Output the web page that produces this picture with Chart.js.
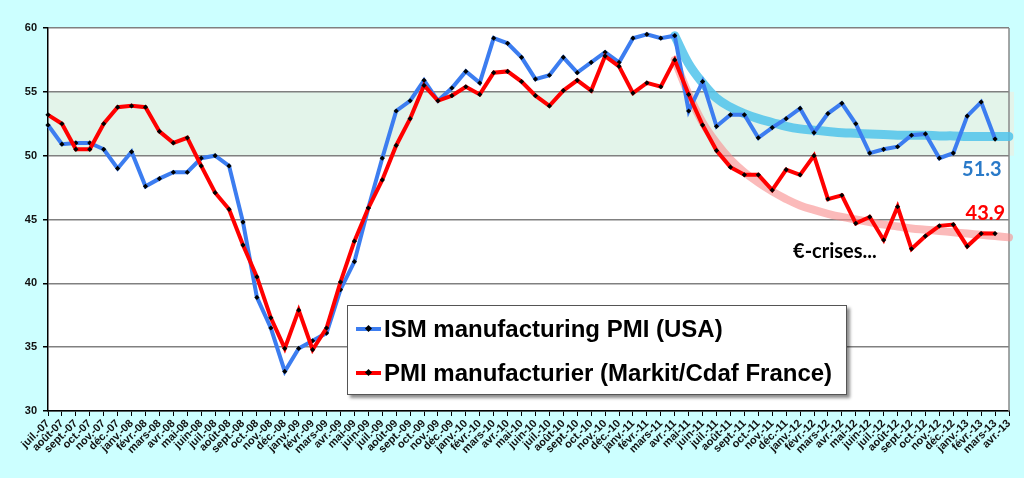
<!DOCTYPE html>
<html>
<head>
<meta charset="utf-8">
<script src="https://cdn.jsdelivr.net/npm/chart.js@4"></script>
<style>
    html, body { margin: 0; padding: 0; background: #ccffff; }
    #wrap { position: relative; width: 1024px; height: 478px; }
    #legend {
        position: absolute; left: 347px; top: 305px; width: 498px; height: 88px;
        background: #fff; border: 1px solid #555;
        box-shadow: 3px 3px 3px rgba( 0, 0, 0, 0.45 );
        font-family: 'Liberation Sans', Arial, sans-serif; font-weight: bold; font-size: 24px; color: #000;
    }
    .row { position: absolute; left: 0; height: 30px; line-height: 30px; white-space: nowrap; }
    .swatch { position: absolute; left: 8px; top: 13px; width: 25px; height: 4px; }
    .swatch i { position: absolute; left: 10px; top: -1px; width: 5px; height: 5px; background: #000; transform: rotate( 45deg ); }
    .txt { position: absolute; left: 36px; top: 0; }
</style>
</head>
<body>
<div id="wrap">
    <canvas id="__chart_pmi" width="1024" height="478"></canvas>
    <div id="legend">
        <div class="row" style="top: 8px;"><span class="swatch" style="background: #3c7df0;"><i></i></span><span class="txt">ISM manufacturing PMI (USA)</span></div>
        <div class="row" style="top: 52px;"><span class="swatch" style="background: #ff0000;"><i></i></span><span class="txt">PMI manufacturier (Markit/Cdaf France)</span></div>
    </div>
</div>
<script>

const months = [
    'juil.-07', 'août-07', 'sept.-07', 'oct.-07', 'nov.-07', 'déc.-07',
    'janv.-08', 'févr.-08', 'mars-08', 'avr.-08', 'mai-08', 'juin-08', 'juil.-08', 'août-08', 'sept.-08', 'oct.-08', 'nov.-08', 'déc.-08',
    'janv.-09', 'févr.-09', 'mars-09', 'avr.-09', 'mai-09', 'juin-09', 'juil.-09', 'août-09', 'sept.-09', 'oct.-09', 'nov.-09', 'déc.-09',
    'janv.-10', 'févr.-10', 'mars-10', 'avr.-10', 'mai-10', 'juin-10', 'juil.-10', 'août-10', 'sept.-10', 'oct.-10', 'nov.-10', 'déc.-10',
    'janv.-11', 'févr.-11', 'mars-11', 'avr.-11', 'mai-11', 'juin-11', 'juil.-11', 'août-11', 'sept.-11', 'oct.-11', 'nov.-11', 'déc.-11',
    'janv.-12', 'févr.-12', 'mars-12', 'avr.-12', 'mai-12', 'juin-12', 'juil.-12', 'août-12', 'sept.-12', 'oct.-12', 'nov.-12', 'déc.-12',
    'janv.-13', 'févr.-13', 'mars-13', 'avr.-13'
];

const ismUsa = [
    52.4, 50.9, 51.0, 51.0, 50.5, 49.0,
    50.3, 47.6, 48.2, 48.7, 48.7, 49.8, 50.0, 49.2, 44.8, 38.9, 36.5, 33.1,
    34.9, 35.5, 36.1, 39.5, 41.7, 45.9, 49.8, 53.5, 54.3, 55.9, 54.3, 55.3,
    56.6, 55.7, 59.2, 58.8, 57.7, 56.0, 56.3, 57.7, 56.5, 57.3, 58.1, 57.3,
    59.2, 59.5, 59.2, 59.4, 53.5, 55.8, 52.3, 53.2, 53.2, 51.4, 52.2, 52.9,
    53.7, 51.8, 53.3, 54.1, 52.5, 50.2, 50.5, 50.7, 51.6, 51.7, 49.8, 50.2,
    53.1, 54.2, 51.3, null
];

const pmiFrance = [
    53.2, 52.5, 50.5, 50.5, 52.5, 53.8,
    53.9, 53.8, 51.9, 51.0, 51.4, 49.2, 47.1, 45.8, 43.0, 40.5, 37.3, 34.9,
    37.9, 34.8, 36.5, 40.1, 43.3, 45.9, 48.1, 50.8, 52.9, 55.5, 54.3, 54.7,
    55.4, 54.8, 56.5, 56.6, 55.8, 54.7, 53.9, 55.1, 55.9, 55.1, 57.8, 57.0,
    54.9, 55.7, 55.4, 57.5, 54.8, 52.4, 50.4, 49.1, 48.5, 48.5, 47.3, 48.9,
    48.5, 50.0, 46.6, 46.9, 44.7, 45.2, 43.4, 46.0, 42.7, 43.7, 44.5, 44.6,
    42.9, 43.9, 43.9, null
];

const ismTrend = [
    null, null, null, null, null, null,
    null, null, null, null, null, null, null, null, null, null, null, null,
    null, null, null, null, null, null, null, null, null, null, null, null,
    null, null, null, null, null, null, null, null, null, null, null, null,
    null, null, null, 59.4, 57.2, 55.7, 54.5, 53.8, 53.3, 52.9, 52.6, 52.3,
    52.1, 52.0, 51.9, 51.8, 51.75, 51.7, 51.65, 51.6, 51.6, 51.6, 51.55, 51.55,
    51.5, 51.5, 51.5, 51.5
];

const pmiTrend = [
    null, null, null, null, null, null,
    null, null, null, null, null, null, null, null, null, null, null, null,
    null, null, null, null, null, null, null, null, null, null, null, null,
    null, null, null, null, null, null, null, null, null, null, null, null,
    null, null, null, 57.5, 54.8, 52.6, 51.0, 49.7, 48.7, 47.9, 47.2, 46.6,
    46.1, 45.75, 45.45, 45.2, 45.0, 44.8, 44.6, 44.45, 44.3, 44.2, 44.1, 44.0,
    43.9, 43.8, 43.7, 43.6
];

const yTicks = [ 30, 35, 40, 45, 50, 55, 60 ];

document.addEventListener( 'DOMContentLoaded', function () {

    let chart = document.getElementById( '__chart_pmi' );

    if( chart ) {

        let ctx = chart.getContext( '2d' );

        /**
         * backdrop, green 50-55 band, notes
         */

        const decor = {
            id: 'decor',
            beforeDraw: ( c ) => {
                const g = c.ctx, a = c.chartArea, y = c.scales.y;
                g.save();
                g.fillStyle = '#ccffff';
                g.fillRect( 0, 0, c.width, c.height );
                g.fillStyle = '#ffffff';
                g.fillRect( a.left, a.top, a.right - a.left, a.bottom - a.top );
                g.fillStyle = '#e3f4ea';
                let top = y.getPixelForValue( 55 ), bot = y.getPixelForValue( 50 );
                g.fillRect( a.left, top, a.right - a.left + 5, bot - top );
                g.restore();
            },
            beforeDatasetsDraw: ( c ) => {
                const g = c.ctx, a = c.chartArea;
                g.save();
                g.strokeStyle = '#888';
                g.lineWidth = 1.5;
                g.beginPath();
                g.moveTo( a.right, a.top );
                g.lineTo( a.right, a.bottom );
                g.stroke();
                g.restore();
            },
            afterDraw: ( c ) => {
                const g = c.ctx, x = c.scales.x, y = c.scales.y;
                const notes = [
                    { text: '51.3', at: 67.05, v: 48.9, color: '#2a7ac8' },
                    { text: '43.9', at: 67.3, v: 45.5, color: '#ff0000' },
                    { text: '€-crises...', at: 56.5, v: 42.5, color: '#000000' }
                ];
                g.save();
                g.font = 'bold 20px Lato, "Open Sans", sans-serif';
                g.textAlign = 'center';
                g.textBaseline = 'middle';
                notes.forEach( n => {
                    g.fillStyle = n.color;
                    g.fillText( n.text, x.getPixelForValue( n.at ), y.getPixelForValue( n.v ) );
                } );
                g.restore();
            }
        };

        const marker = {
            pointStyle: 'rectRot',
            pointRadius: 2.6,
            pointBorderWidth: 0,
            pointBackgroundColor: '#000',
            tension: 0,
            borderWidth: 4,
            spanGaps: false
        };

        new Chart( ctx, {
            type: 'line',
            data: {
                labels: months,
                datasets: [
                    Object.assign( { label: 'PMI manufacturier (Markit/Cdaf France)', data: pmiFrance, borderColor: '#ff0000' }, marker ),
                    Object.assign( { label: 'ISM manufacturing PMI (USA)', data: ismUsa, borderColor: '#3c7df0' }, marker ),
                    {
                        data: pmiTrend,
                        borderColor: 'rgba( 248 140 140 / 0.6 )',
                        borderWidth: 8,
                        pointRadius: 0,
                        tension: 0.4,
                        borderCapStyle: 'round'
                    },
                    {
                        data: ismTrend,
                        borderColor: 'rgba( 80 195 235 / 0.85 )',
                        borderWidth: 9,
                        pointRadius: 0,
                        tension: 0.4,
                        borderCapStyle: 'round'
                    }
                ]
            },
            options: {
                responsive: false,
                animation: false,
                layout: {
                    padding: { top: 28, right: 15, left: 0, bottom: 0 }
                },
                plugins: {
                    legend: { display: false },
                    tooltip: { enabled: false }
                },
                scales: {
                    x: {
                        offset: false,
                        afterFit: ( s ) => { s.height = 67; },
                        border: { display: true, color: '#000', width: 1.5 },
                        grid: {
                            drawOnChartArea: false,
                            tickLength: 5,
                            tickColor: '#000'
                        },
                        ticks: {
                            autoSkip: false,
                            minRotation: 45,
                            maxRotation: 45,
                            padding: 1,
                            color: '#111',
                            font: { family: '"Liberation Sans", Arial, sans-serif', size: 11, weight: 'bold' }
                        }
                    },
                    y: {
                        min: 30,
                        max: 60,
                        afterFit: ( s ) => { s.width = 48; },
                        afterBuildTicks: ( s ) => { s.ticks = yTicks.map( v => ( { value: v } ) ); },
                        border: { display: true, color: '#000', width: 1.5 },
                        grid: {
                            color: '#808080',
                            lineWidth: 1.5,
                            tickLength: 5,
                            tickColor: '#000'
                        },
                        ticks: {
                            padding: 6,
                            color: '#111',
                            font: { family: '"Liberation Sans", Arial, sans-serif', size: 11, weight: 'bold' }
                        }
                    }
                }
            },
            plugins: [ decor ]
        } );

    }

} );
</script>
</body>
</html>
